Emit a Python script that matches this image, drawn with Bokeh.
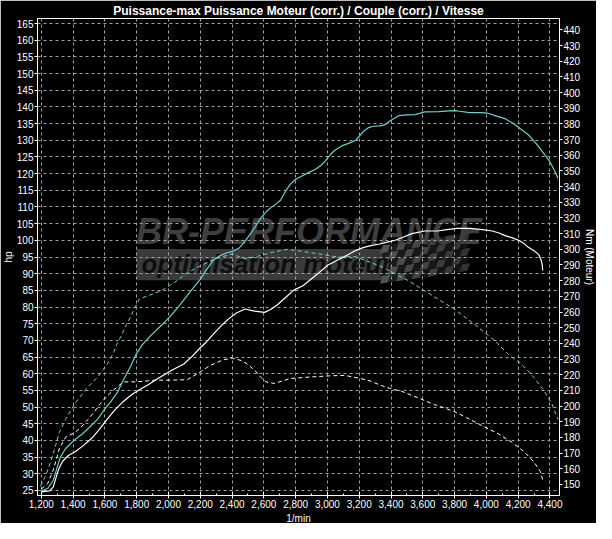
from bokeh.plotting import figure
from bokeh.models import Range1d, LinearAxis, FixedTicker, NumeralTickFormatter, Title
from bokeh.embed import file_html
from bokeh.resources import INLINE
from bokeh.core.properties import value

# ---------------- data ----------------
title_text = "Puissance-max Puissance Moteur (corr.) / Couple (corr.) / Vitesse"
x_label = "1/min"
left_label = "hp"
right_label = "Nm (Moteur)"

x_ticks = [1200, 1400, 1600, 1800, 2000, 2200, 2400, 2600, 2800, 3000,
           3200, 3400, 3600, 3800, 4000, 4200, 4400]
x_minor = [1300, 1500, 1700, 1900, 2100, 2300, 2500, 2700, 2900, 3100,
           3300, 3500, 3700, 3900, 4100, 4300]
hp_ticks = [25, 30, 35, 40, 45, 50, 55, 60, 65, 70, 75, 80, 85, 90, 95, 100,
            105, 110, 115, 120, 125, 130, 135, 140, 145, 150, 155, 160, 165]
nm_ticks = [150, 160, 170, 180, 190, 200, 210, 220, 230, 240, 250, 260, 270,
            280, 290, 300, 310, 320, 330, 340, 350, 360, 370, 380, 390, 400,
            410, 420, 430, 440]

# Puissance-max (hp) - cyan solid
pmax_rpm = [1195, 1240, 1275, 1300, 1320, 1353, 1400, 1454, 1500, 1555, 1600,
            1635, 1680, 1716, 1760, 1797, 1837, 1890, 1938, 1980, 2018, 2070,
            2119, 2160, 2200, 2241, 2281, 2320, 2362, 2400, 2442, 2470, 2503,
            2545, 2584, 2620, 2644, 2680, 2705, 2740, 2765, 2800, 2840, 2880,
            2926, 2960, 2987, 3020, 3047, 3090, 3128, 3179, 3229, 3260, 3289,
            3330, 3360, 3400, 3451, 3500, 3552, 3613, 3700, 3764, 3800, 3830,
            3895, 3950, 3996, 4030, 4060, 4116, 4170, 4218, 4260, 4298, 4330,
            4370, 4400, 4430, 4450]
pmax_hp = [24.8, 25.6, 28.0, 32.0, 35.0, 37.6, 39.8, 41.8, 43.8, 46.4, 49.5,
           51.5, 54.5, 58.1, 62.0, 65.9, 68.8, 71.5, 73.7, 75.6, 77.6, 80.5,
           83.5, 86.0, 88.3, 91.3, 94.0, 95.3, 96.2, 96.6, 97.6, 99.0, 101.1,
           104.0, 106.9, 108.8, 109.8, 111.0, 112.0, 115.0, 116.7, 118.3,
           119.3, 120.3, 121.3, 122.5, 123.8, 125.8, 127.0, 128.3, 129.0,
           130.0, 132.8, 133.8, 134.2, 134.3, 134.6, 136.0, 137.4, 137.6,
           137.7, 138.5, 138.6, 138.8, 138.9, 138.7, 138.3, 138.3, 138.2,
           137.8, 137.3, 136.5, 135.0, 133.3, 131.8, 129.9, 128.0, 125.5,
           123.5, 120.8, 118.6]

# Puissance Moteur (hp) - white solid
pm_rpm = [1200, 1252, 1275, 1292, 1310, 1333, 1370, 1413, 1460, 1514, 1560,
          1615, 1660, 1716, 1770, 1817, 1870, 1918, 1970, 2018, 2060, 2099,
          2150, 2200, 2240, 2281, 2330, 2382, 2430, 2483, 2520, 2543, 2604,
          2640, 2684, 2740, 2786, 2846, 2900, 2947, 3000, 3028, 3080, 3129,
          3180, 3229, 3280, 3330, 3391, 3431, 3480, 3531, 3613, 3693, 3750,
          3814, 3895, 3976, 4037, 4080, 4117, 4160, 4198, 4230, 4259, 4300,
          4330, 4345, 4352, 4354]
pm_hp = [24.6, 24.9, 26.0, 28.8, 31.5, 33.7, 35.5, 36.6, 38.3, 40.5, 43.0,
         46.4, 49.0, 51.7, 53.8, 55.2, 56.6, 58.1, 59.6, 61.0, 62.0, 63.0,
         65.3, 67.8, 69.6, 71.8, 74.3, 76.6, 78.3, 79.4, 79.0, 78.8, 78.4,
         79.2, 80.6, 83.0, 85.0, 86.4, 88.5, 90.3, 92.5, 93.2, 94.5, 95.7,
         97.0, 97.9, 98.5, 98.9, 99.6, 100.1, 101.0, 102.0, 102.8, 102.8,
         103.2, 103.6, 103.6, 103.2, 102.8, 102.2, 101.4, 100.8, 100.1, 99.3,
         98.1, 96.9, 95.7, 94.0, 92.5, 91.0]

# Couple max (Nm) - cyan dashed
cmax_rpm = [1195, 1225, 1252, 1285, 1313, 1353, 1413, 1494, 1555, 1615, 1650,
            1676, 1736, 1776, 1817, 1877, 1958, 2039, 2119, 2200, 2281, 2362,
            2402, 2480, 2560, 2650, 2745, 2846, 2950, 3068, 3168, 3250, 3350,
            3431, 3512, 3592, 3693, 3794, 3875, 3955, 4056, 4137, 4218, 4279,
            4360, 4410, 4450]
cmax_nm = [149.0, 155.0, 162.4, 173.0, 183.2, 191.5, 201.9, 212.3, 218.5,
           226.9, 233.0, 239.4, 251.9, 260.1, 268.4, 270.6, 273.7, 278.9,
           285.1, 289.3, 293.4, 296.0, 297.0, 294.0, 295.5, 298.0, 300.0,
           298.6, 297.0, 295.0, 295.5, 292.5, 288.5, 284.0, 279.9, 274.7,
           268.4, 262.2, 256.0, 249.7, 241.4, 233.1, 226.9, 220.7, 210.2,
           201.9, 191.5]

# Couple (Nm) - white dashed
c_rpm = [1200, 1240, 1272, 1295, 1313, 1353, 1413, 1450, 1494, 1535, 1575,
         1615, 1655, 1716, 1797, 1918, 2000, 2119, 2180, 2261, 2342, 2402,
         2463, 2500, 2543, 2580, 2614, 2665, 2765, 2886, 3007, 3108, 3209,
         3269, 3330, 3391, 3472, 3573, 3673, 3794, 3875, 3976, 4077, 4158,
         4238, 4298, 4339, 4354]
c_nm = [147.0, 150.5, 158.3, 166.0, 172.8, 180.1, 183.2, 186.5, 191.5, 196.5,
        201.9, 206.5, 210.2, 215.4, 215.4, 216.5, 216.5, 216.8, 220.5, 225.8,
        229.4, 230.6, 228.9, 226.5, 222.7, 218.5, 215.4, 214.4, 217.5, 218.5,
        219.2, 219.6, 217.5, 216.0, 213.4, 211.3, 209.2, 205.1, 200.9, 196.7,
        192.6, 187.3, 182.2, 177.0, 170.8, 164.5, 158.3, 153.0]

# ---------------- styles ----------------
FONT = "Liberation Sans"
CYAN = "#6fcfcf"
WHITE = "#ffffff"
GRID = "#a0a0a0"

p = figure(width=596, height=523, output_backend="svg", toolbar_location=None,
           x_range=Range1d(1176, 4460), y_range=Range1d(23.5, 166.5),
           background_fill_color="black", border_fill_color="black",
           outline_line_color="white", outline_line_width=1,
           min_border_left=0, min_border_right=0, min_border_top=0,
           min_border_bottom=0)
p.extra_y_ranges = {"nm": Range1d(142.9, 447.3)}

p.title.text = title_text
p.title.align = "center"
p.title.text_color = "white"
p.title.text_font = FONT
p.title.text_font_size = "12px"
p.title.text_font_style = "bold"
p.title.standoff = 2

def style_axis(ax):
    ax.axis_line_color = "white"
    ax.major_tick_line_color = "white"
    ax.minor_tick_line_color = "white"
    ax.major_label_text_color = "white"
    ax.major_label_text_font = FONT
    ax.major_label_text_font_size = "10px"
    ax.major_label_standoff = 1
    ax.major_tick_out = 3
    ax.major_tick_in = 0
    ax.minor_tick_out = 0
    ax.minor_tick_in = 0

xa = p.xaxis[0]
xa.ticker = FixedTicker(ticks=x_ticks, minor_ticks=x_minor)
xa.formatter = NumeralTickFormatter(format="0,0")
style_axis(xa)
xa.major_tick_in = 4
xa.minor_tick_in = 2

ya = p.yaxis[0]
ya.ticker = FixedTicker(ticks=hp_ticks)
style_axis(ya)

ra = LinearAxis(y_range_name="nm", ticker=FixedTicker(ticks=nm_ticks))
style_axis(ra)
p.add_layout(ra, "right")

# axis titles as side titles (outside the axes)
def side_title(text):
    return Title(text=text, align="center", text_color="white",
                 text_font=FONT, text_font_size="10px",
                 text_font_style="normal", standoff=0, offset=0)

p.add_layout(side_title(x_label), "below")
p.add_layout(side_title(left_label), "left")
p.add_layout(side_title(right_label), "right")

p.xgrid.ticker = FixedTicker(ticks=x_ticks)
p.ygrid.ticker = FixedTicker(ticks=hp_ticks)
for g in (p.xgrid[0], p.ygrid[0]):
    g.grid_line_color = GRID
    g.grid_line_dash = "3 3"
    g.grid_line_width = 1

# ---------------- watermark (decoration under the grid) ----------------
p.quad(left=1799, right=3420, bottom=88.0, top=97.4, fill_color="#3a3a3a",
       line_color=None, level="image")
flag_x, flag_y, flag_c = [], [], []
cols, rows = 11, 5
for i in range(cols):
    for j in range(rows):
        x0 = 3330 + i * 50
        y0 = 87.0 + j * 2.3 + i * 0.35
        flag_x.append([x0, x0 + 50, x0 + 68, x0 + 18])
        flag_y.append([y0, y0 + 0.35, y0 + 2.65, y0 + 2.3])
        shade = 0.55 + 0.45 * (1 - i / cols)
        base = 0x4a if (i + j) % 2 == 0 else 0x14
        v = int(base * shade + 0x08)
        flag_c.append("#%02x%02x%02x" % (v, v, v))
p.patches(xs=flag_x, ys=flag_y, fill_color=flag_c, line_color=None,
          level="image")
p.text(x=[1795], y=[102.6], text=["BR-PERFORMANCE"], text_font=value(FONT),
       text_font_size="36px", text_font_style="bold italic",
       text_color="#3e3e3e", text_baseline="middle", level="image")
p.text(x=[1830], y=[93.0], text=["optimisation moteur"], text_font=value(FONT),
       text_font_size="26px", text_font_style="bold italic",
       text_color="#0e0e0e", text_baseline="middle", level="image")

# ---------------- curves ----------------
p.line(cmax_rpm, cmax_nm, y_range_name="nm", line_color=CYAN, line_width=1,
       line_dash="4 3")
p.line(c_rpm, c_nm, y_range_name="nm", line_color=WHITE, line_width=1,
       line_dash="4 3")
p.line(pm_rpm, pm_hp, line_color=WHITE, line_width=1.2)
p.line(pmax_rpm, pmax_hp, line_color=CYAN, line_width=1.2)

html = file_html(p, INLINE)
html = html.replace("<body", '<body style="background-color:#000000"', 1)
open("out.html", "w").write(html)
